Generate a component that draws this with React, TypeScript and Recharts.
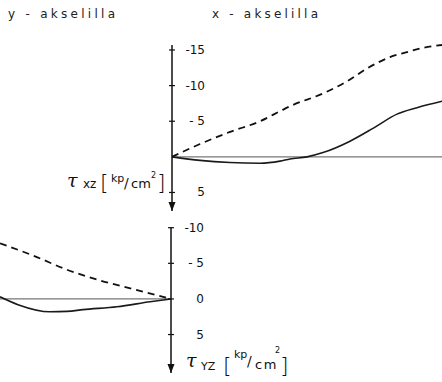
import React from "react";
import { LineChart, Line, XAxis, YAxis, ReferenceLine, ReferenceDot } from "recharts";

// shear stress along the x-axis (top panel), offset from the support in px-units
const xDashedPos = [0, 28, 58, 88, 108, 118, 151, 175, 195, 218, 235, 251, 270];
const xDashedVal = [0, -1.8, -3.5, -5.0, -6.4, -7.1, -8.9, -10.6, -12.4, -14.0, -14.7, -15.3, -15.7];
const xSolidPos = [0, 28, 58, 88, 108, 118, 135, 151, 178, 201, 225, 245, 270];
const xSolidVal = [0, 0.5, 0.8, 0.9, 0.6, 0.3, 0, -0.6, -2.2, -4.0, -6.0, -6.9, -7.8];

// shear stress along the y-axis (bottom panel)
const yDashedPos = [-171, -138, -104, -71, -38, 0];
const yDashedVal = [-7.8, -6.1, -4.1, -2.6, -1.4, 0];
const ySolidPos = [-171, -153, -121, -104, -88, -54, -21, 0];
const ySolidVal = [-0.3, 0.8, 1.8, 1.75, 1.5, 1.1, 0.4, 0];

const xTicks = [-15, -10, -5, 5];
const yTicks = [-10, -5, 0, 5];

const toRows = (pos: number[], val: number[]) => pos.map((p, i) => ({ s: p, t: val[i] }));

const FONT = "'DejaVu Sans', sans-serif";

const tickLabel = (v: number) => (v === -5 ? "- 5" : String(v));

function CrossTick({ y, payload, ax }: any) {
  return (
    <g>
      <line x1={ax - 3} x2={ax + 3} y1={y} y2={y} stroke="#111" strokeWidth={1.2} />
      <text x={ax + 33} y={y + 4} textAnchor="end" fontSize={12} fontFamily={FONT} fill="#111">
        {tickLabel(payload.value)}
      </text>
    </g>
  );
}

const Arrow = ({ cx, cy }: any) => (
  <polygon points={`${cx - 3.5},${cy - 9} ${cx + 3.5},${cy - 9} ${cx},${cy}`} fill="#111" />
);

export default function App() {
  return (
    <div style={{ position: "absolute", left: 0, top: 0, width: 442, height: 382, background: "#fff" }}>
      <svg width={442} height={382} style={{ position: "absolute", left: 0, top: 0 }}>
        <text x={8} y={18} fontSize={12} fontFamily={FONT} fill="#222" textLength={107} lengthAdjust="spacing">
          y - akselilla
        </text>
        <text x={212} y={18} fontSize={12} fontFamily={FONT} fill="#222" textLength={106} lengthAdjust="spacing">
          x - akselilla
        </text>

        <g fill="#111">
          <text x={67} y={187} fontSize={19} fontFamily="'DejaVu Serif', serif" fontStyle="italic">τ</text>
          <text x={83} y={188} fontSize={12} fontFamily={FONT}>xz</text>
          <text x={100} y={190} fontSize={22} fontFamily={FONT} fontWeight={300}>[</text>
          <text x={111} y={182} fontSize={11} fontFamily={FONT}>kp</text>
          <text x={124} y={188} fontSize={14} fontFamily={FONT}>/</text>
          <text x={131} y={188} fontSize={13} fontFamily={FONT}>cm</text>
          <text x={151} y={178} fontSize={8} fontFamily={FONT}>2</text>
          <text x={157} y={190} fontSize={22} fontFamily={FONT} fontWeight={300}>]</text>

          <text x={186} y={367} fontSize={19} fontFamily="'DejaVu Serif', serif" fontStyle="italic">τ</text>
          <text x={201} y={370} fontSize={11} fontFamily={FONT}>YZ</text>
          <text x={223} y={373} fontSize={22} fontFamily={FONT} fontWeight={300}>[</text>
          <text x={234} y={358} fontSize={11} fontFamily={FONT}>kp</text>
          <text x={247} y={366} fontSize={14} fontFamily={FONT}>/</text>
          <text x={255} y={369} fontSize={13} fontFamily={FONT} letterSpacing={1.5}>cm</text>
          <text x={275} y={353} fontSize={8} fontFamily={FONT}>2</text>
          <text x={280} y={373} fontSize={22} fontFamily={FONT} fontWeight={300}>]</text>
        </g>
      </svg>

      <div style={{ position: "absolute", left: 0, top: 0 }}>
        <LineChart width={442} height={215} margin={{ top: 45, right: 0, bottom: 4, left: 132 }}>
          <XAxis type="number" dataKey="s" domain={[0, 270]} hide allowDataOverflow />
          <YAxis
            type="number"
            width={40}
            domain={[-15.4, 7.6]}
            reversed
            ticks={xTicks}
            interval={0}
            tickLine={false}
            axisLine={{ stroke: "#111", strokeWidth: 1.5 }}
            tick={(p: any) => <CrossTick {...p} ax={172} />}
          />
          <ReferenceLine y={0} stroke="#777" strokeWidth={1.2} />
          <ReferenceDot x={0} y={7.6} r={0} shape={Arrow} />
          <Line data={toRows(xDashedPos, xDashedVal)} dataKey="t" type="monotone" stroke="#111" strokeWidth={1.8} strokeDasharray="7 5" dot={false} isAnimationActive={false} />
          <Line data={toRows(xSolidPos, xSolidVal)} dataKey="t" type="monotone" stroke="#1a1a1a" strokeWidth={1.6} dot={false} isAnimationActive={false} />
        </LineChart>
      </div>

      <div style={{ position: "absolute", left: 0, top: 215 }}>
        <LineChart width={442} height={167} margin={{ top: 12, right: 231, bottom: 9, left: 0 }}>
          <XAxis type="number" dataKey="s" domain={[-171, 0]} hide allowDataOverflow />
          <YAxis
            type="number"
            orientation="right"
            width={40}
            domain={[-10.1, 10.4]}
            reversed
            ticks={yTicks}
            interval={0}
            tickLine={false}
            axisLine={{ stroke: "#111", strokeWidth: 1.5 }}
            tick={(p: any) => <CrossTick {...p} ax={171} />}
          />
          <ReferenceLine y={0} stroke="#777" strokeWidth={1.2} />
          <ReferenceDot x={0} y={10.4} r={0} shape={Arrow} />
          <Line data={toRows(yDashedPos, yDashedVal)} dataKey="t" type="monotone" stroke="#111" strokeWidth={1.8} strokeDasharray="7 5" dot={false} isAnimationActive={false} />
          <Line data={toRows(ySolidPos, ySolidVal)} dataKey="t" type="monotone" stroke="#1a1a1a" strokeWidth={1.6} dot={false} isAnimationActive={false} />
        </LineChart>
      </div>
    </div>
  );
}
